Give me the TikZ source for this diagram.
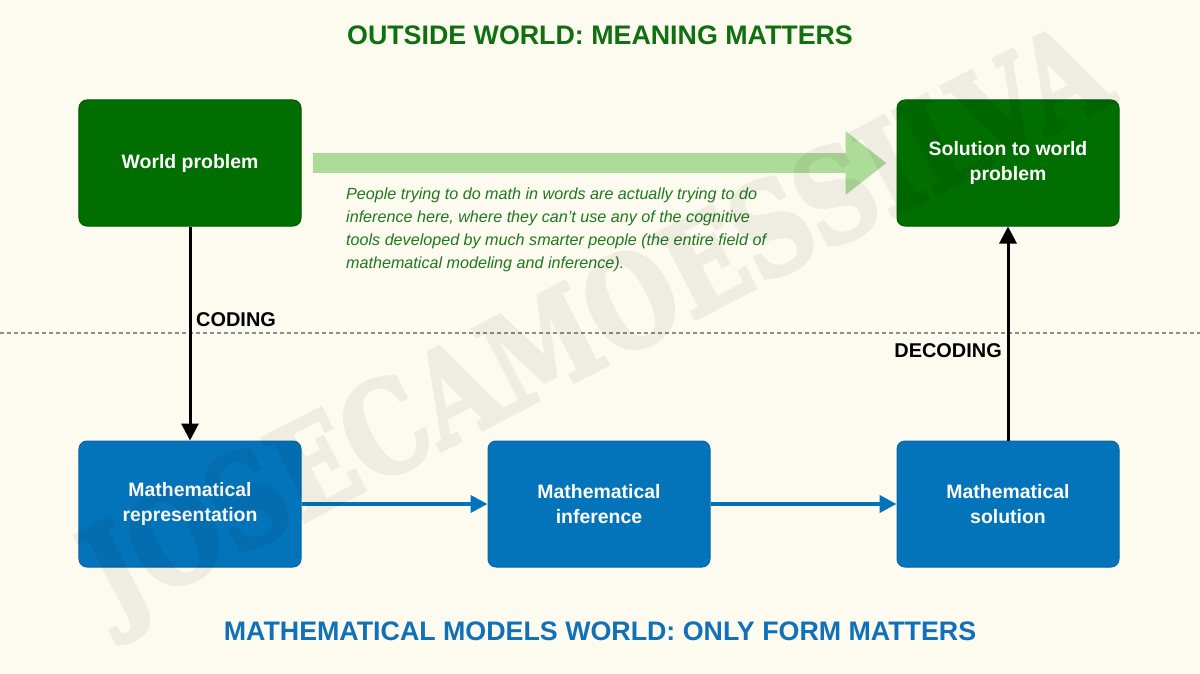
\documentclass[tikz,border=0pt]{standalone}
\usepackage{fontspec}
\setmainfont{Liberation Sans}
\newfontfamily\wmfont{DejaVu Serif}[UprightFont={* Bold}, FakeBold=3]
\usetikzlibrary{arrows.meta}
\definecolor{bg}{RGB}{253,250,240}
\definecolor{dgreen}{RGB}{0,110,0}
\definecolor{dgreenb}{RGB}{0,88,0}
\definecolor{titlegreen}{RGB}{16,112,16}
\definecolor{textgreen}{RGB}{30,120,30}
\definecolor{lgreen}{RGB}{173,219,152}
\definecolor{mblue}{RGB}{4,116,186}
\definecolor{mblueb}{RGB}{10,100,170}
\definecolor{tblue}{RGB}{16,112,184}
\definecolor{dashgray}{RGB}{140,140,140}
\begin{document}
\begin{tikzpicture}[x=1bp,y=-1bp,
  box/.style={rectangle, rounded corners=8bp, minimum width=222bp, minimum height=126bp,
    text=white, align=center, font=\fontsize{19.5}{25}\selectfont\bfseries, line width=1bp},
  greenbox/.style={box, fill=dgreen, draw=dgreenb},
  bluebox/.style={box, fill=mblue, draw=mblueb},
  blackarrow/.style={draw=black, line width=3bp, -{Triangle[length=17bp,width=17bp]}},
  bluearrow/.style={draw=mblue, line width=4bp, -{Triangle[length=17bp,width=17bp]}},
  biglabel/.style={inner sep=0, font=\fontsize{20}{22}\selectfont\bfseries, text=black},
  titletext/.style={inner sep=0, anchor=base, font=\fontsize{26.9}{30}\selectfont\bfseries}]
\fill[bg] (0,0) rectangle (1200,674);
\useasboundingbox (0,0) rectangle (1200,674);

% titles
\node[titletext, text=titlegreen] (t1) at (600,45) {OUTSIDE WORLD: MEANING MATTERS};
\node[titletext, text=tblue] (t2) at (600,640) {MATHEMATICAL MODELS WORLD: ONLY FORM MATTERS};

% separator
\coordinate (dl) at (0,333);
\coordinate (dr) at (1200,333);
\draw[dashgray, line width=1.3bp, dash pattern=on 4bp off 3bp] (dl) -- (dr);

% boxes
\node[greenbox] (wp) at (190,163) {World problem};
\node[greenbox] (sol) at (1008,163) {Solution to world\\problem};
\node[bluebox] (mr) at (190,504) {Mathematical\\representation};
\node[bluebox] (mi) at (599,504) {Mathematical\\inference};
\node[bluebox] (ms) at (1008,504) {Mathematical\\solution};

% big green arrow
\draw[line width=20bp, draw=lgreen, -{Triangle[length=41bp,width=61bp]}]
  ([xshift=11bp]wp.east) -- ([xshift=-10bp]sol.west);

% note
\node[anchor=north west, inner sep=0, align=left, text=textgreen,
      font=\fontsize{16.2}{23}\selectfont\itshape] (note) at (346,188)
  {People trying to do math in words are actually trying to do\\
   inference here, where they can’t use any of the cognitive\\
   tools developed by much smarter people (the entire field of\\
   mathematical modeling and inference).};

% connectors
\draw[blackarrow] (wp.south) -- (mr.north);
\draw[blackarrow] (ms.north) -- (sol.south);
\draw[bluearrow] (mr.east) -- (mi.west);
\draw[bluearrow] (mi.east) -- (ms.west);

\node[biglabel, anchor=base west] (coding) at (196,326) {CODING};
\node[biglabel, anchor=base east] (decoding) at (1002,357) {DECODING};

% watermark
\begin{scope}[transparency group, opacity=0.055]
\node[rotate=27.4, inner sep=0, text=black,
      font=\fontsize{128}{128}\selectfont\wmfont] (wm) at (600,330)
  {\scalebox{0.8}[1]{JOSECAMOESSILVA}};
\end{scope}
\end{tikzpicture}
\end{document}
